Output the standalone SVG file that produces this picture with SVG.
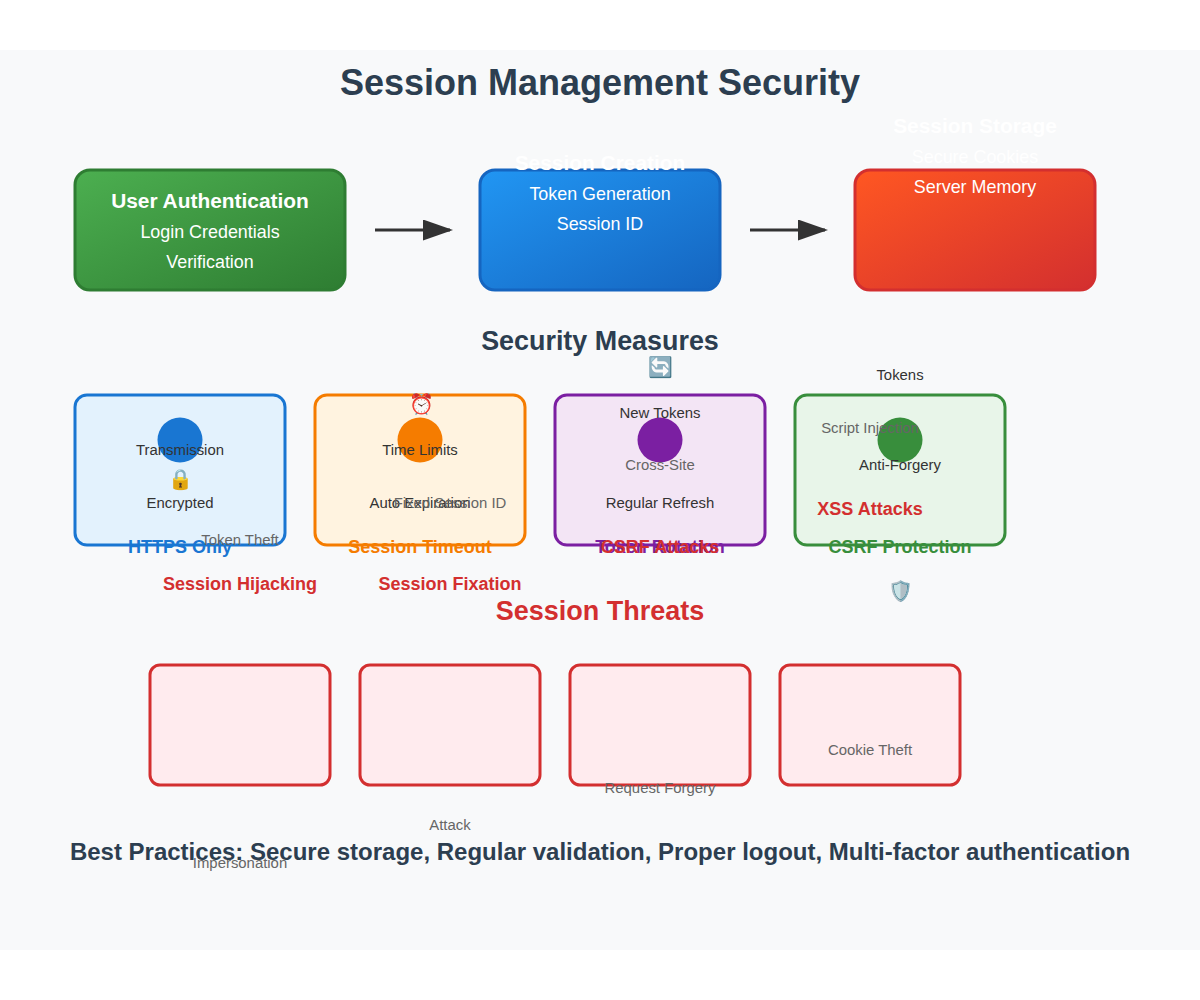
<svg xmlns="http://www.w3.org/2000/svg" width="1200" height="1000" viewBox="0 0 1200 1000">
<style>
text{font-family:"Liberation Sans",Arial,sans-serif;text-anchor:middle}
.w20{font-size:20.9px;font-weight:bold;fill:#fff}
.w16{font-size:17.9px;fill:#fff}
.big{font-size:18px;font-weight:bold}
.d14{font-size:14.9px;fill:#333}
.g14{font-size:14.9px;fill:#666}
.r18{font-size:18px;font-weight:bold;fill:#d32f2f}
.emoji{font-size:20px;font-family:"Noto Color Emoji","Apple Color Emoji",sans-serif}
.flow{stroke-width:3}
.m{stroke-width:3}
.t{fill:#ffebee;stroke:#d32f2f;stroke-width:3}
</style>
<defs>
<linearGradient id="gG" x1="0" y1="0" x2="1" y2="1"><stop offset="0" stop-color="#4caf50"/><stop offset="1" stop-color="#2e7d32"/></linearGradient>
<linearGradient id="gB" x1="0" y1="0" x2="1" y2="1"><stop offset="0" stop-color="#2196f3"/><stop offset="1" stop-color="#1565c0"/></linearGradient>
<linearGradient id="gR" x1="0" y1="0" x2="1" y2="1"><stop offset="0" stop-color="#ff5722"/><stop offset="1" stop-color="#d32f2f"/></linearGradient>
<marker id="arrow" markerWidth="10" markerHeight="7" refX="9" refY="3.5" orient="auto"><polygon points="0 0,10 3.5,0 7" fill="#333"/></marker>
</defs>
<rect x="0" y="0" width="1200" height="1000" fill="#fff"/>
<rect x="0" y="50" width="1200" height="900" fill="#f8f9fa"/>
<text x="600" y="95" font-size="36" font-weight="bold" fill="#2c3e50">Session Management Security</text>
<g id="user-auth"><rect x="75" y="170" width="270" height="120" rx="15" fill="url(#gG)" stroke="#2e7d32" stroke-width="3"/>
<text x="210" y="208" class="w20">User Authentication</text><text x="210" y="238" class="w16">Login Credentials</text><text x="210" y="268" class="w16">Verification</text></g>
<g id="session-creation"><rect x="480" y="170" width="240" height="120" rx="15" fill="url(#gB)" stroke="#1565c0" stroke-width="3"/>
<text x="600" y="170" class="w20">Session Creation</text><text x="600" y="200" class="w16">Token Generation</text><text x="600" y="230" class="w16">Session ID</text></g>
<g id="session-storage"><rect x="855" y="170" width="240" height="120" rx="15" fill="url(#gR)" stroke="#d32f2f" stroke-width="3"/>
<text x="975" y="133" class="w20">Session Storage</text><text x="975" y="163" class="w16">Secure Cookies</text><text x="975" y="193" class="w16">Server Memory</text></g>
<g id="connectors" fill="none" stroke="#333">
<line x1="375" y1="230" x2="450" y2="230" class="flow" marker-end="url(#arrow)"/>
<line x1="750" y1="230" x2="825" y2="230" class="flow" marker-end="url(#arrow)"/>
</g>
<text x="600" y="350" font-size="26.9" font-weight="bold" fill="#2c3e50">Security Measures</text>
<g id="https"><rect x="75" y="395" width="210" height="150" rx="12" fill="#e3f2fd" stroke="#1976d2" class="m"/><circle cx="180" cy="440" r="22.5" fill="#1976d2"/>
<text x="181" y="486" class="emoji">🔒</text><text x="180" y="455" class="d14">Transmission</text><text x="180" y="508" class="d14">Encrypted</text><text x="180" y="553" class="big" fill="#1976d2">HTTPS Only</text></g>
<g id="timeout"><rect x="315" y="395" width="210" height="150" rx="12" fill="#fff3e0" stroke="#f57c00" class="m"/><circle cx="420" cy="440" r="22.5" fill="#f57c00"/>
<text x="422" y="411" class="emoji">⏰</text><text x="420" y="455" class="d14">Time Limits</text><text x="420" y="508" class="d14">Auto Expiration</text><text x="420" y="553" class="big" fill="#f57c00">Session Timeout</text></g>
<g id="rotation"><rect x="555" y="395" width="210" height="150" rx="12" fill="#f3e5f5" stroke="#7b1fa2" class="m"/><circle cx="660" cy="440" r="22.5" fill="#7b1fa2"/>
<text x="661" y="374" class="emoji">🔄</text><text x="660" y="418" class="d14">New Tokens</text><text x="660" y="508" class="d14">Regular Refresh</text><text x="660" y="553" class="big" fill="#7b1fa2">Token Rotation</text></g>
<g id="csrf-protection"><rect x="795" y="395" width="210" height="150" rx="12" fill="#e8f5e9" stroke="#388e3c" class="m"/><circle cx="900" cy="440" r="22.5" fill="#388e3c"/>
<text x="900" y="380" class="d14">Tokens</text><text x="900" y="470" class="d14">Anti-Forgery</text><text x="900" y="553" class="big" fill="#388e3c">CSRF Protection</text><text x="901" y="598" class="emoji">🛡️</text></g>
<text x="600" y="620" font-size="27" font-weight="bold" fill="#d32f2f">Session Threats</text>
<g id="hijacking"><rect x="150" y="665" width="180" height="120" rx="10" class="t"/><text x="240" y="590" class="r18">Session Hijacking</text><text x="240" y="545" class="g14">Token Theft</text><text x="240" y="868" class="g14">Impersonation</text></g>
<g id="fixation"><rect x="360" y="665" width="180" height="120" rx="10" class="t"/><text x="450" y="590" class="r18">Session Fixation</text><text x="450" y="508" class="g14">Fixed Session ID</text><text x="450" y="830" class="g14">Attack</text></g>
<g id="csrf"><rect x="570" y="665" width="180" height="120" rx="10" class="t"/><text x="660" y="553" class="r18">CSRF Attacks</text><text x="660" y="470" class="g14">Cross-Site</text><text x="660" y="793" class="g14">Request Forgery</text></g>
<g id="xss"><rect x="780" y="665" width="180" height="120" rx="10" class="t"/><text x="870" y="515" class="r18">XSS Attacks</text><text x="870" y="433" class="g14">Script Injection</text><text x="870" y="755" class="g14">Cookie Theft</text></g>
<text x="600" y="860" font-size="24" font-weight="bold" fill="#2c3e50">Best Practices: Secure storage, Regular validation, Proper logout, Multi-factor authentication</text>
</svg>
